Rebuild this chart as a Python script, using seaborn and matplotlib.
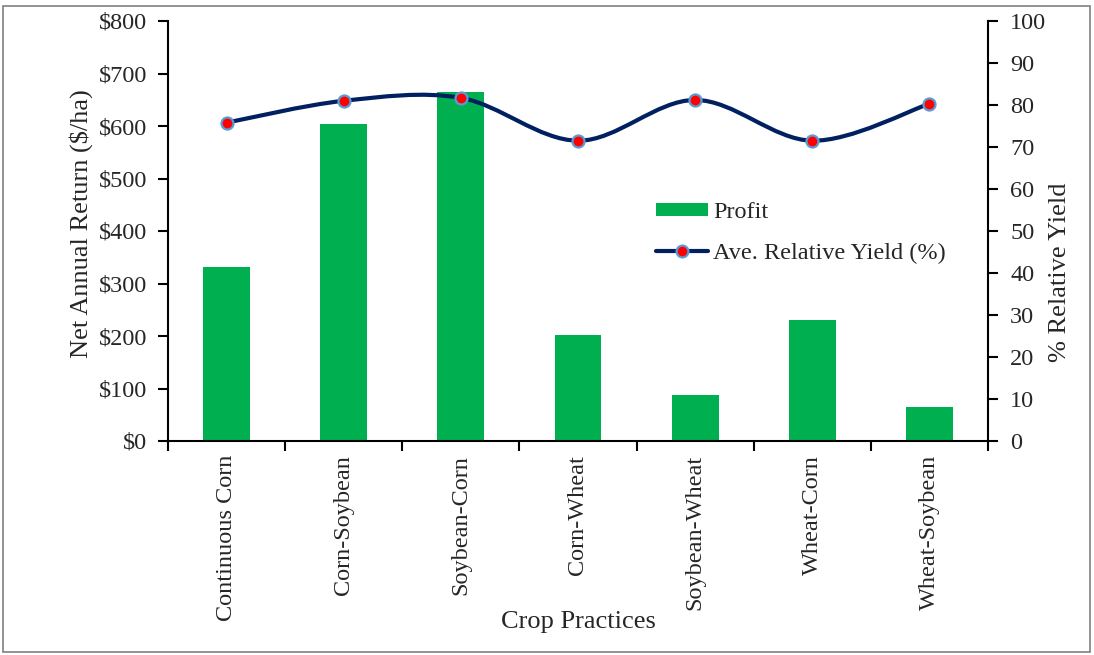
import numpy as np
import pandas as pd
import matplotlib
matplotlib.use("Agg")
import matplotlib.pyplot as plt
from matplotlib.path import Path
from matplotlib.patches import PathPatch, Rectangle, Patch
from matplotlib.lines import Line2D
from matplotlib.ticker import FuncFormatter, FixedLocator, NullFormatter
import seaborn as sns

practices = ["Continuous Corn", "Corn-Soybean", "Soybean-Corn", "Corn-Wheat",
             "Soybean-Wheat", "Wheat-Corn", "Wheat-Soybean"]
profit = [331, 604, 665, 202, 88, 230, 65]
rel_yield = [75.8, 81.0, 81.7, 71.5, 81.2, 71.5, 80.3]

sns.set_theme(style="white")
plt.rcParams["font.family"] = ["Liberation Serif", "DejaVu Serif"]
plt.rcParams["mathtext.default"] = "regular"

BAR = "#00B050"
LINE = "#002060"
TICK_FS = 17.5
LABEL_FS = 19

fig = plt.figure(figsize=(10.94, 6.55), dpi=100)
ax = fig.add_axes([168 / 1094, 1 - 441 / 655, 820 / 1094, 420 / 655])

df = pd.DataFrame({"practice": practices, "profit": profit})
sns.barplot(data=df, x="practice", y="profit", color=BAR, saturation=1,
            width=0.4, ax=ax, edgecolor="none")
ax.set_xlim(-0.5, len(practices) - 0.5)
ax.set_ylim(0, 800)
ax.set_yticks(np.arange(0, 801, 100))
ax.yaxis.set_major_formatter(FuncFormatter(lambda v, p: f"${int(v)}"))
ax.set_ylabel("Net Annual Return ($/ha)", fontsize=LABEL_FS)
ax.yaxis.set_label_coords(-0.0915, 0.517)
ax.set_xlabel("Crop Practices", fontsize=LABEL_FS)
ax.xaxis.set_label_coords(0.5, -0.404)

# category labels at centres, tick marks at the category boundaries
ax.set_xticks(range(len(practices)))
ax.set_xticklabels(practices, rotation=90, fontsize=TICK_FS)
ax.tick_params(axis="x", which="major", length=0, pad=10)
ax.xaxis.set_minor_locator(FixedLocator(np.arange(-0.5, len(practices), 1.0)))
ax.xaxis.set_minor_formatter(NullFormatter())
ax.tick_params(axis="x", which="minor", length=7, width=1.5, color="black",
               direction="out", bottom=True)
ax.tick_params(axis="y", length=7, width=1.5, color="black", direction="out",
               labelsize=TICK_FS, left=True, pad=8)

for side in ["top", "right"]:
    ax.spines[side].set_visible(False)
for side in ["left", "bottom"]:
    ax.spines[side].set_color("black")
    ax.spines[side].set_linewidth(1.5)

ax2 = ax.twinx()
ax2.set_ylim(0, 100)
ax2.set_yticks(np.arange(0, 101, 10))
ax2.tick_params(axis="y", length=7, width=1.5, color="black", direction="out",
                labelsize=TICK_FS, right=True, pad=9)
ax2.set_ylabel("% Relative Yield", fontsize=LABEL_FS)
ax2.yaxis.set_label_coords(1.074, 0.402)
for side in ["top", "left", "bottom"]:
    ax2.spines[side].set_visible(False)
ax2.spines["right"].set_color("black")
ax2.spines["right"].set_linewidth(1.5)
ax2.grid(False)
ax.grid(False)

# smoothed line through the yield points (Catmull-Rom as cubic Bezier segments)
xs = np.arange(len(rel_yield), dtype=float)
ys = np.array(rel_yield, dtype=float)
pts = np.column_stack([xs, ys])
ext = np.vstack([pts[0], pts, pts[-1]])
verts = [tuple(pts[0])]
codes = [Path.MOVETO]
for i in range(len(pts) - 1):
    p0, p1, p2, p3 = ext[i], ext[i + 1], ext[i + 2], ext[i + 3]
    c1 = p1 + (p2 - p0) / 6.0
    c2 = p2 - (p3 - p1) / 6.0
    verts += [tuple(c1), tuple(c2), tuple(p2)]
    codes += [Path.CURVE4] * 3
ax2.add_patch(PathPatch(Path(verts, codes), facecolor="none", edgecolor=LINE,
                        lw=3, capstyle="round", zorder=3))
sns.scatterplot(x=xs, y=ys, ax=ax2, s=75, color="#FF0000",
                edgecolor="#5B9BD5", linewidth=1.6, zorder=4, legend=False)

handles = [Patch(facecolor=BAR, edgecolor="none"),
           Line2D([], [], color=LINE, lw=3, marker="o", markersize=8.5,
                  markerfacecolor="#FF0000", markeredgecolor="#5B9BD5",
                  markeredgewidth=1.6)]
ax2.legend(handles, ["Profit", "Ave. Relative Yield (%)"], loc="center left",
           bbox_to_anchor=(0.595, 0.495), frameon=False, fontsize=TICK_FS,
           handlelength=2.15, handleheight=0.45, labelspacing=0.8,
           handletextpad=0.2, borderpad=0, borderaxespad=0)

fig.patches.append(Rectangle((2.5 / 1094, 1 - 651.5 / 655), 1087 / 1094, 645.5 / 655,
                             transform=fig.transFigure, fill=False,
                             edgecolor="#808080", lw=1.2))

fig.savefig("out.png", dpi=100)
